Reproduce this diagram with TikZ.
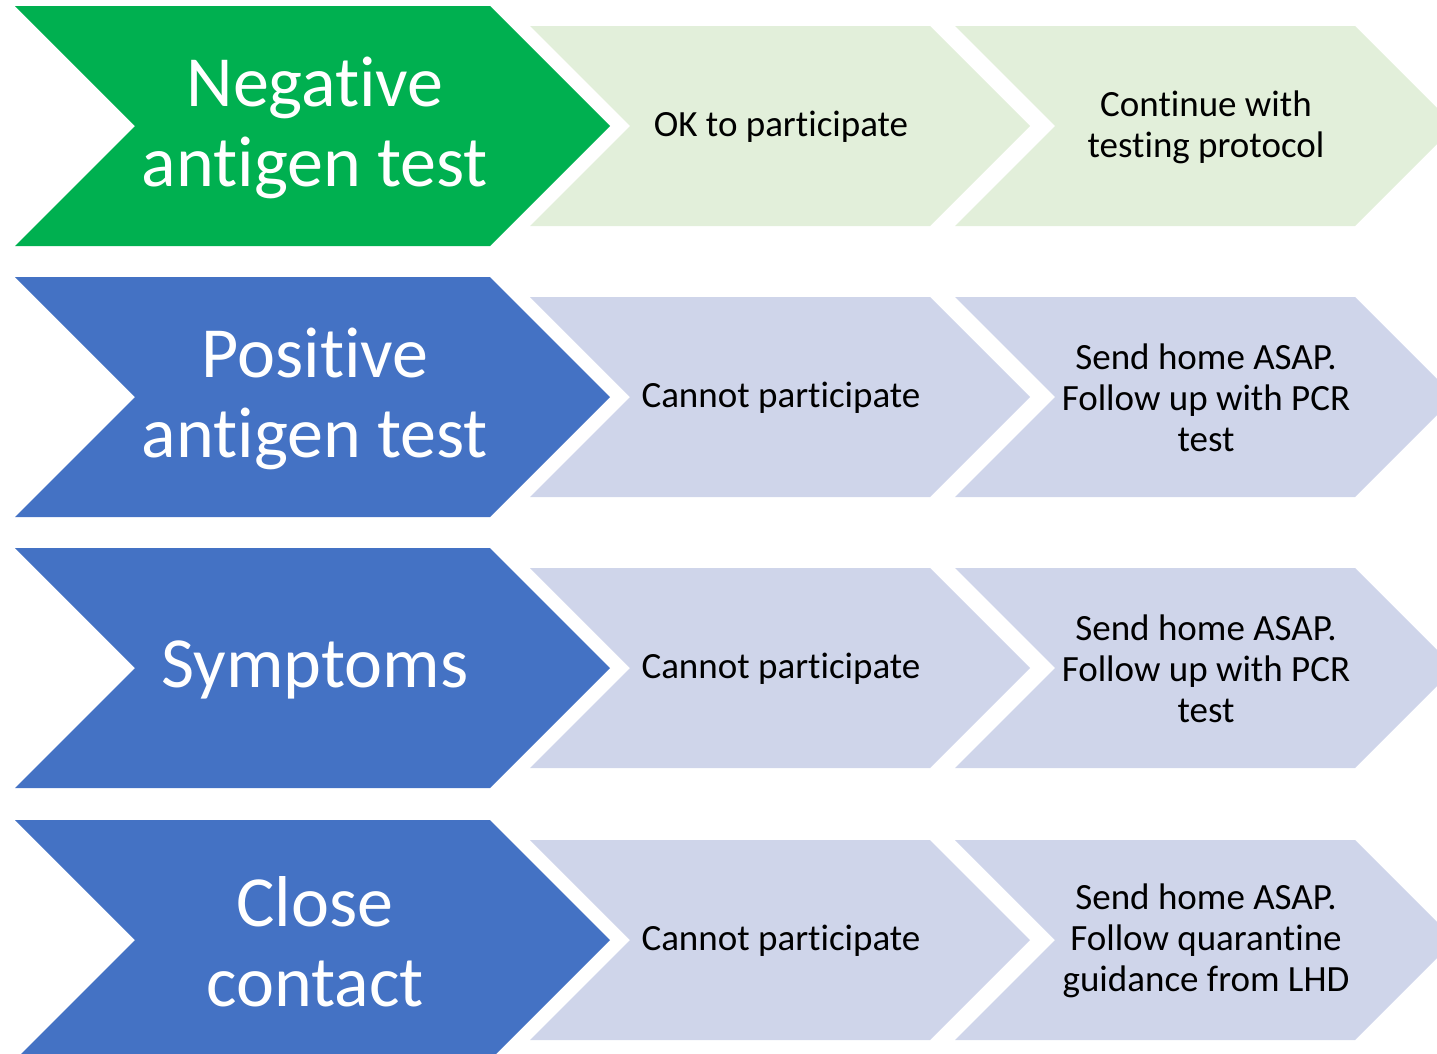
\documentclass[tikz,border=0pt]{standalone}
\usepackage{fontspec}
\setmainfont{Carlito}[Ligatures=NoCommon]
\definecolor{verde}{HTML}{00B050}
\definecolor{blu}{HTML}{4472C4}
\definecolor{verdechiaro}{HTML}{E2EFDA}
\definecolor{bluchiaro}{HTML}{CFD5EA}
\tikzset{
  titolo/.style={text=white, align=center, font=\fontsize{72}{80}\selectfont},
  voce/.style={text=black, align=center, font=\fontsize{37}{41}\selectfont},
}
% freccia a chevron: x sinistra, y centro, larghezza, altezza, colore
\newcommand{\freccia}[5]{%
  \fill[#5] (#1,#2-#4/2) -- ++(#3-#4/2,0) -- ++(#4/2,#4/2) -- ++(-#4/2,#4/2)
    -- ++(-#3+#4/2,0) -- ++(#4/2,-#4/2) -- cycle;}
\begin{document}
\begin{tikzpicture}[x=1pt, y=-1pt]
\useasboundingbox (0,0) rectangle (1437,1053);
\clip (0,0) rectangle (1437,1053);
% una riga per ogni caso
\foreach \i/\yc/\forte/\chiaro/\caso/\esito/\azione in {
  1/126/verde/verdechiaro/{Negative\\antigen test}/{OK to participate}/{Continue with\\testing protocol},
  2/397/blu/bluchiaro/{Positive\\antigen test}/{Cannot participate}/{Send home ASAP.\\Follow up with PCR\\test},
  3/668/blu/bluchiaro/{Symptoms}/{Cannot participate}/{Send home ASAP.\\Follow up with PCR\\test},
  4/940/blu/bluchiaro/{Close\\contact}/{Cannot participate}/{Send home ASAP.\\Follow quarantine\\guidance from LHD}}{
  \freccia{955}{\yc}{500}{200}{\chiaro}
  \freccia{530}{\yc}{500}{200}{\chiaro}
  \freccia{15}{\yc}{595}{240}{\forte}
  \node[titolo] (caso\i) at (315,\yc+2) {\caso};
  \node[voce] (esito\i) at (781,\yc+1) {\esito};
  \node[voce] (azione\i) at (1206,\yc+1) {\azione};
}
\end{tikzpicture}
\end{document}
